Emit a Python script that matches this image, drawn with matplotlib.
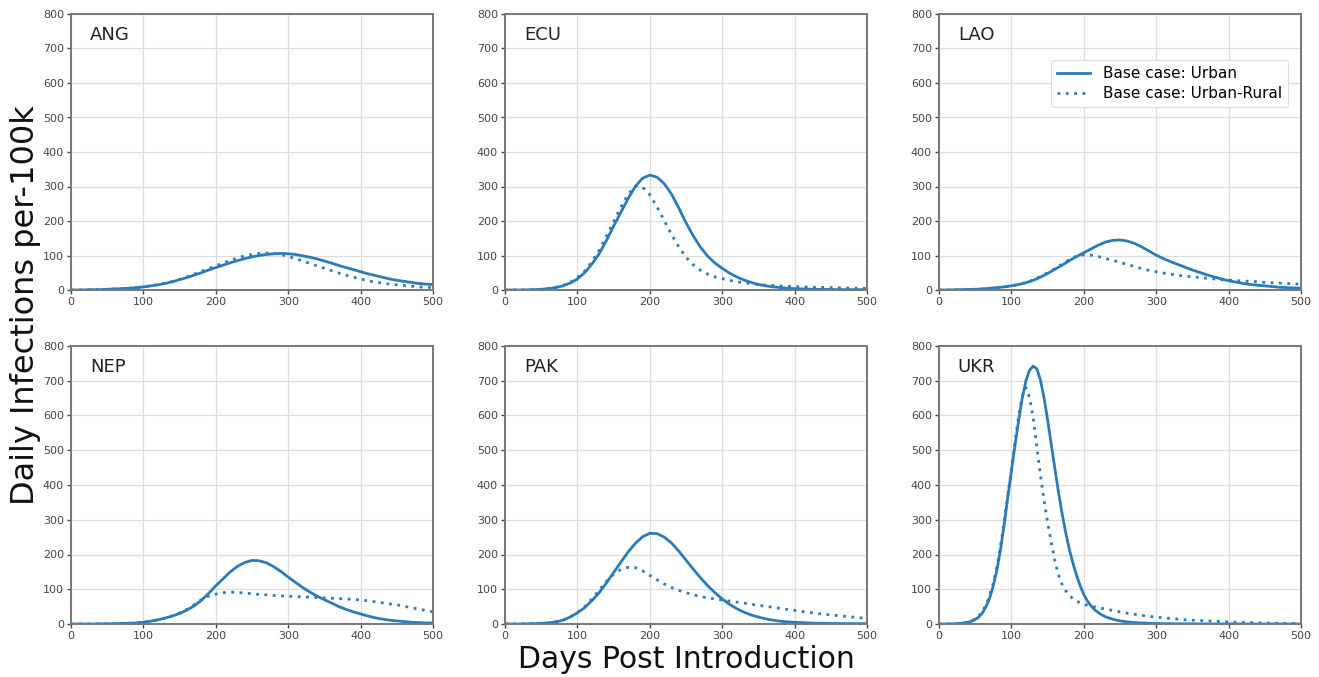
import numpy as np
import matplotlib
matplotlib.use("Agg")
import matplotlib.pyplot as plt

# ---------------- data ----------------
days = list(range(0, 501, 10))

ang_urban = [0, 0, 0.5, 1, 1, 2, 3, 4, 5, 7, 9, 12, 15, 19, 24, 30, 36, 43, 50, 58,
             65, 72, 79, 85, 91, 96, 100, 103, 105, 106, 105, 103, 99, 95, 90, 84, 78, 71, 65, 59,
             53, 47, 42, 37, 32, 28, 25, 22, 19, 17, 16]
ang_rural = [0, 0, 0.5, 1, 1, 2, 3, 4, 5, 7, 9, 12, 16, 20, 25, 31, 38, 46, 54, 62,
             70, 78, 86, 93, 99, 103, 106, 107, 106, 103, 97, 91, 84, 77, 70, 63, 56, 49, 43, 37,
             32, 27, 23, 20, 17, 15, 13, 11, 9, 8, 7]

ecu_urban = [0, 0, 0, 0.5, 1, 2, 4, 7, 12, 20, 32, 50, 75, 105, 143, 185, 225, 265, 300, 324,
             333, 327, 308, 278, 238, 195, 157, 124, 98, 78, 63, 49, 38, 29, 22, 16, 12, 9, 7, 5,
             4, 3, 2.5, 2, 1.5, 1.5, 1, 1, 1, 1, 1]
ecu_rural = [0, 0, 0, 0.5, 1, 2, 4, 8, 13, 22, 36, 55, 82, 115, 155, 198, 240, 277, 301, 298,
             276, 241, 201, 161, 125, 95, 73, 57, 46, 38, 33, 28, 24, 21, 18, 16, 14, 13, 12, 11,
             10, 9, 8.5, 8, 7.5, 7, 6.5, 6, 5.5, 5, 5]

lao_urban = [0, 0, 0.5, 1, 1.5, 2, 3, 5, 7, 9, 12, 16, 21, 28, 37, 48, 60, 72, 85, 97,
             108, 119, 130, 139, 144, 145, 142, 135, 125, 113, 101, 91, 82, 74, 66, 58, 51, 44, 38, 32,
             27, 23, 19, 16, 14, 12, 10, 8, 7, 6, 5]
lao_rural = [0, 0, 0.5, 1, 1.5, 2, 3, 5, 7, 9, 12, 16, 22, 29, 39, 50, 62, 75, 88, 98,
             102, 101, 97, 91, 86, 80, 74, 68, 62, 57, 53, 49, 46, 43, 40, 38, 36, 34, 32, 30,
             29, 27, 26, 25, 24, 22, 21, 20, 19, 18, 17]

nep_urban = [0, 0, 0, 0, 0.5, 0.5, 1, 1.5, 2, 3, 5, 8, 12, 17, 23, 30, 40, 52, 68, 88,
             110, 130, 150, 166, 177, 183, 182, 176, 165, 151, 135, 120, 105, 92, 80, 70, 60, 50, 42, 35,
             29, 23, 18, 14, 11, 9, 7, 5, 4, 3, 3]
nep_rural = [0, 0, 0, 0, 0.5, 0.5, 1, 1.5, 2, 3, 5, 8, 12, 17, 24, 32, 42, 55, 70, 80,
             86, 90, 92, 91, 89, 87, 85, 84, 82, 81, 80, 79, 78, 77, 76, 75, 74, 73, 72, 71,
             69, 67, 64, 61, 58, 55, 51, 47, 43, 39, 35]

pak_urban = [0, 0, 0, 0.5, 1, 2, 3, 6, 11, 20, 32, 47, 67, 90, 118, 148, 178, 207, 232, 251,
             261, 260, 250, 233, 210, 184, 158, 133, 110, 90, 72, 57, 44, 34, 26, 20, 15, 11, 8, 6,
             5, 4, 3, 2, 2, 1.5, 1.5, 1, 1, 1, 1]
pak_rural = [0, 0, 0, 0.5, 1, 2, 3, 6, 11, 20, 33, 50, 72, 97, 122, 143, 157, 163, 162, 153,
             140, 127, 115, 105, 97, 90, 84, 79, 75, 72, 69, 66, 63, 60, 57, 54, 51, 48, 45, 42,
             39, 36, 33, 31, 28, 26, 24, 22, 20, 18, 16]

ukr_days = list(range(0, 250, 5)) + list(range(250, 501, 10))
ukr_urban = [0, 0, 0, 0.3, 0.5, 1, 2, 3, 5, 8, 13, 20, 32, 50, 75, 110, 155, 215, 285, 365,
             440, 515, 585, 650, 700, 730, 742, 735, 703, 652, 588, 518, 448, 380, 318, 263, 215, 175, 140, 110,
             85, 66, 52, 41, 33, 26, 21, 17, 14, 11,
             9, 6, 4, 3, 2, 1.5, 1, 1, 0.5, 0.5, 0.5, 0.3, 0.3, 0.2, 0.2, 0.1, 0.1, 0.1, 0, 0, 0, 0, 0, 0, 0, 0]
ukr_rural = [0, 0, 0, 0.3, 0.6, 1, 2, 3.5, 6, 9, 15, 23, 36, 55, 82, 118, 165, 225, 295, 370,
             445, 525, 600, 655, 680, 652, 595, 512, 430, 357, 293, 235, 182, 142, 114, 96, 82, 73, 66, 61,
             57, 54, 51, 49, 47, 45, 43, 41, 39, 37,
             35, 31, 28, 25, 22, 20, 18, 16, 14, 12, 11, 10, 9, 8, 7, 6, 5, 4.5, 4, 3.5, 3, 2.5, 2, 2, 1.5, 1.5]

countries = ["ANG", "ECU", "LAO", "NEP", "PAK", "UKR"]
x_series = [days, days, days, days, days, ukr_days]
urban_series = [ang_urban, ecu_urban, lao_urban, nep_urban, pak_urban, ukr_urban]
rural_series = [ang_rural, ecu_rural, lao_rural, nep_rural, pak_rural, ukr_rural]

legend_labels = ["Base case: Urban", "Base case: Urban-Rural"]
xticks = [0, 100, 200, 300, 400, 500]
yticks = [0, 100, 200, 300, 400, 500, 600, 700, 800]

# ---------------- figure ----------------
W, H = 1319, 677
fig = plt.figure(figsize=(W / 100, H / 100), dpi=100)

col_left = [71, 505, 939]
col_w = 362
row_top = [14, 346]
row_h = [276, 278]

color = "#2b7bb8"
for i, name in enumerate(countries):
    r, c = divmod(i, 3)
    l = col_left[c] / W
    b = 1 - (row_top[r] + row_h[r]) / H
    ax = fig.add_axes([l, b, col_w / W, row_h[r] / H])
    ax.plot(x_series[i], urban_series[i], color=color, lw=2.0, ls="-", label=legend_labels[0])
    ax.plot(x_series[i], rural_series[i], color=color, lw=2.0, ls=(0, (1, 2)), label=legend_labels[1])
    ax.set_xlim(0, 500)
    ax.set_ylim(0, 800)
    ax.set_xticks(xticks)
    ax.set_yticks(yticks)
    ax.grid(True, color="#dddddd", lw=0.9)
    ax.set_axisbelow(True)
    ax.tick_params(labelsize=8, colors="#444444", length=3, width=1, pad=2)
    for s in ax.spines.values():
        s.set_color("#777777")
        s.set_linewidth(1.4)
    ax.text(0.052, 0.925, name, transform=ax.transAxes, fontsize=13,
            va="center", ha="left", color="#222222")
    if name == "LAO":
        leg = ax.legend(loc="upper right", bbox_to_anchor=(0.985, 0.86), fontsize=11,
                        frameon=True, framealpha=1, edgecolor="#dddddd",
                        handlelength=2.2, borderpad=0.4, labelspacing=0.3)
        leg.get_frame().set_linewidth(0.8)

fig.text(686 / W, 1 - 660 / H, "Days Post Introduction", ha="center", va="center",
         fontsize=21.5, color="#111111")
fig.text(26 / W, 1 - 305 / H, "Daily Infections per-100k", ha="center", va="center",
         fontsize=23, rotation=90, color="#111111")

fig.savefig("out.png", dpi=100)
